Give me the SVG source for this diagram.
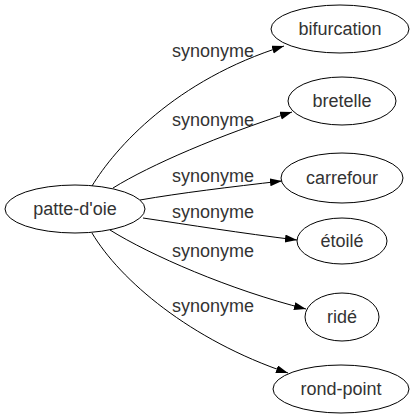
<svg xmlns="http://www.w3.org/2000/svg" width="419" height="419" viewBox="0 0 419 419">
<defs>
<style>
.node ellipse{fill:#fff;stroke:#000;stroke-width:1}
.node text{font-family:"Liberation Sans",Arial,sans-serif;font-size:18px;fill:#333;text-anchor:middle}
.edges path{fill:none;stroke:#000;stroke-width:1}
.edges text{font-family:"Liberation Sans",Arial,sans-serif;font-size:18px;fill:#333;text-anchor:middle}
</style>
<marker id="arr" markerUnits="userSpaceOnUse" markerWidth="13" markerHeight="9" refX="12" refY="4" orient="auto">
<path d="M0,0 L12,4 L0,8 z" fill="#000"/>
</marker>
</defs>
<rect width="419" height="419" fill="#fff"/>
<g id="edges" class="edges">
<path d="M92,186 C115,148 175,80 284,46" marker-end="url(#arr)"/>
<path d="M113,188 C150,165 220,135 292,112" marker-end="url(#arr)"/>
<path d="M140,200 C180,193 230,187 282,181" marker-end="url(#arr)"/>
<path d="M143,218 C190,225 240,233 297,240" marker-end="url(#arr)"/>
<path d="M110,230 C150,255 230,290 306,309" marker-end="url(#arr)"/>
<path d="M92,233 C120,280 190,340 288,373" marker-end="url(#arr)"/>
<text x="213" y="57">synonyme</text>
<text x="213" y="126">synonyme</text>
<text x="213" y="182">synonyme</text>
<text x="213" y="218">synonyme</text>
<text x="213" y="257">synonyme</text>
<text x="213" y="312">synonyme</text>
</g>
<g id="patte-d-oie" class="node"><ellipse cx="75" cy="209" rx="70" ry="24"/><text x="75" y="215">patte-d'oie</text></g>
<g id="bifurcation" class="node"><ellipse cx="340" cy="29" rx="69" ry="24"/><text x="340" y="35">bifurcation</text></g>
<g id="bretelle" class="node"><ellipse cx="342" cy="101" rx="54" ry="24"/><text x="342" y="107">bretelle</text></g>
<g id="carrefour" class="node"><ellipse cx="342" cy="178" rx="61" ry="25"/><text x="342" y="184">carrefour</text></g>
<g id="etoile" class="node"><ellipse cx="342" cy="241" rx="45" ry="23"/><text x="342" y="247">étoilé</text></g>
<g id="ride" class="node"><ellipse cx="342" cy="317" rx="37" ry="24"/><text x="342" y="323">ridé</text></g>
<g id="rond-point" class="node"><ellipse cx="341" cy="389" rx="68" ry="24"/><text x="341" y="395">rond-point</text></g>
</svg>
